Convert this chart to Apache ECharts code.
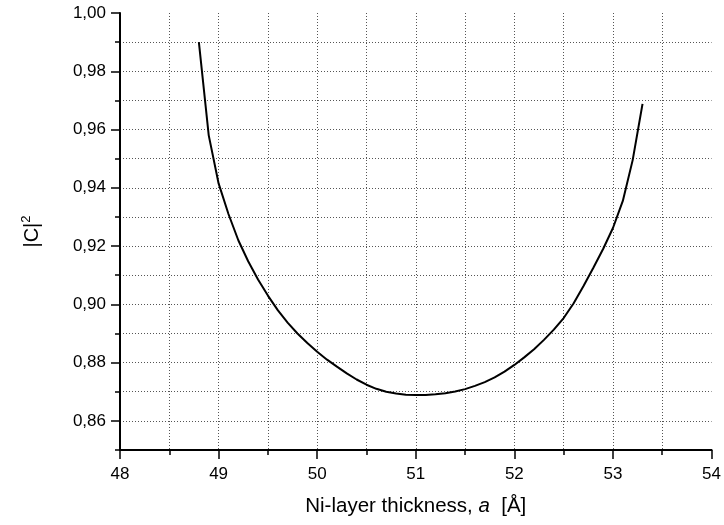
<!DOCTYPE html>
<html>
<head>
<meta charset="utf-8">
<script src="https://cdn.jsdelivr.net/npm/echarts@6/dist/echarts.min.js"></script>
<style>html,body{margin:0;padding:0;background:#fff}#c{width:724px;height:525px}</style>
</head>
<body>
<div id="c"></div>
<script>
// thickness a [Å]
var thickness = [48.8,48.9,49.0,49.1,49.2,49.3,49.4,49.5,49.6,49.7,49.8,49.9,50.0,50.1,50.2,50.3,50.4,50.5,50.6,50.7,50.8,50.9,51.0,51.1,51.2,51.3,51.4,51.5,51.6,51.7,51.8,51.9,52.0,52.1,52.2,52.3,52.4,52.5,52.6,52.7,52.8,52.9,53.0,53.1,53.2,53.3];
// |C|^2
var c2 = [0.990,0.958,0.9415,0.931,0.922,0.9148,0.9085,0.9030,0.8980,0.8937,0.8900,0.8867,0.8837,0.8810,0.8786,0.8763,0.8742,0.8724,0.8710,0.8700,0.8694,0.8690,0.8689,0.8689,0.8691,0.8695,0.8701,0.8709,0.8720,0.8733,0.8749,0.8769,0.8792,0.8818,0.8846,0.8878,0.8913,0.8953,0.9003,0.9062,0.9125,0.9190,0.9262,0.9355,0.9495,0.9688];
var xMajorTicks = [48,49,50,51,52,53,54];
var yMajorTicks = [0.86,0.88,0.90,0.92,0.94,0.96,0.98,1.00];

var FONT = "'Liberation Sans', Arial, sans-serif";
var data = thickness.map(function(t,i){return [t,c2[i]];});

var chart = echarts.init(document.getElementById('c'));
chart.setOption({
  animation:false,
  grid:{left:120, right:9, top:13, bottom:75, containLabel:false},
  xAxis:[{
    type:'value', min:48, max:54, interval:0.5, position:'bottom',
    axisLine:{show:true, onZero:false, lineStyle:{color:'#000', width:2}},
    axisTick:{show:true, length:5, lineStyle:{color:'#000', width:1.5}},
    axisLabel:{show:true, margin:16, fontSize:17, fontFamily:FONT, color:'#000',
      formatter:function(v){return Math.abs(v-Math.round(v))<1e-6 ? String(Math.round(v)) : '';}},
    splitLine:{show:true, showMinLine:false, showMaxLine:false, lineStyle:{color:'#555', type:[1,2], width:1}},
    name:'{n|Ni-layer thickness, }{i|a}{n|  [Å]}', nameLocation:'middle', nameGap:46,
    nameTextStyle:{rich:{n:{fontSize:20.5, fontFamily:FONT, color:'#000'}, i:{fontSize:20.5, fontFamily:FONT, fontStyle:'italic', color:'#000'}}}
  },{
    type:'value', min:48, max:54, position:'bottom',
    axisLine:{show:false},
    axisTick:{show:true, length:9, customValues:xMajorTicks, lineStyle:{color:'#000', width:1.5}},
    axisLabel:{show:false}, splitLine:{show:false}
  }],
  yAxis:[{
    type:'value', min:0.85, max:1.00, interval:0.01, position:'left',
    axisLine:{show:true, onZero:false, lineStyle:{color:'#000', width:2}},
    axisTick:{show:true, length:5, lineStyle:{color:'#000', width:1.5}},
    axisLabel:{show:true, margin:14, fontSize:17, fontFamily:FONT, color:'#000',
      formatter:function(v){var k=Math.round(v*100); return (k%2===0) ? v.toFixed(2).replace('.',',') : '';}},
    splitLine:{show:true, showMinLine:false, showMaxLine:false, lineStyle:{color:'#555', type:[1,2], width:1}},
    name:'{n||C|}{s|2}', nameLocation:'middle', nameGap:76, nameRotate:90,
    nameTextStyle:{rich:{n:{fontSize:20, fontFamily:FONT, color:'#000', lineHeight:24}, s:{fontSize:13, fontFamily:FONT, color:'#000', verticalAlign:'top', lineHeight:24}}}
  },{
    type:'value', min:0.85, max:1.00, position:'left',
    axisLine:{show:false},
    axisTick:{show:true, length:9, customValues:yMajorTicks, lineStyle:{color:'#000', width:1.5}},
    axisLabel:{show:false}, splitLine:{show:false}
  }],
  series:[{
    type:'line', data:data, xAxisIndex:0, yAxisIndex:0, showSymbol:false, symbol:'none',
    lineStyle:{color:'#000', width:2}, smooth:false
  }]
});
</script>
</body>
</html>
